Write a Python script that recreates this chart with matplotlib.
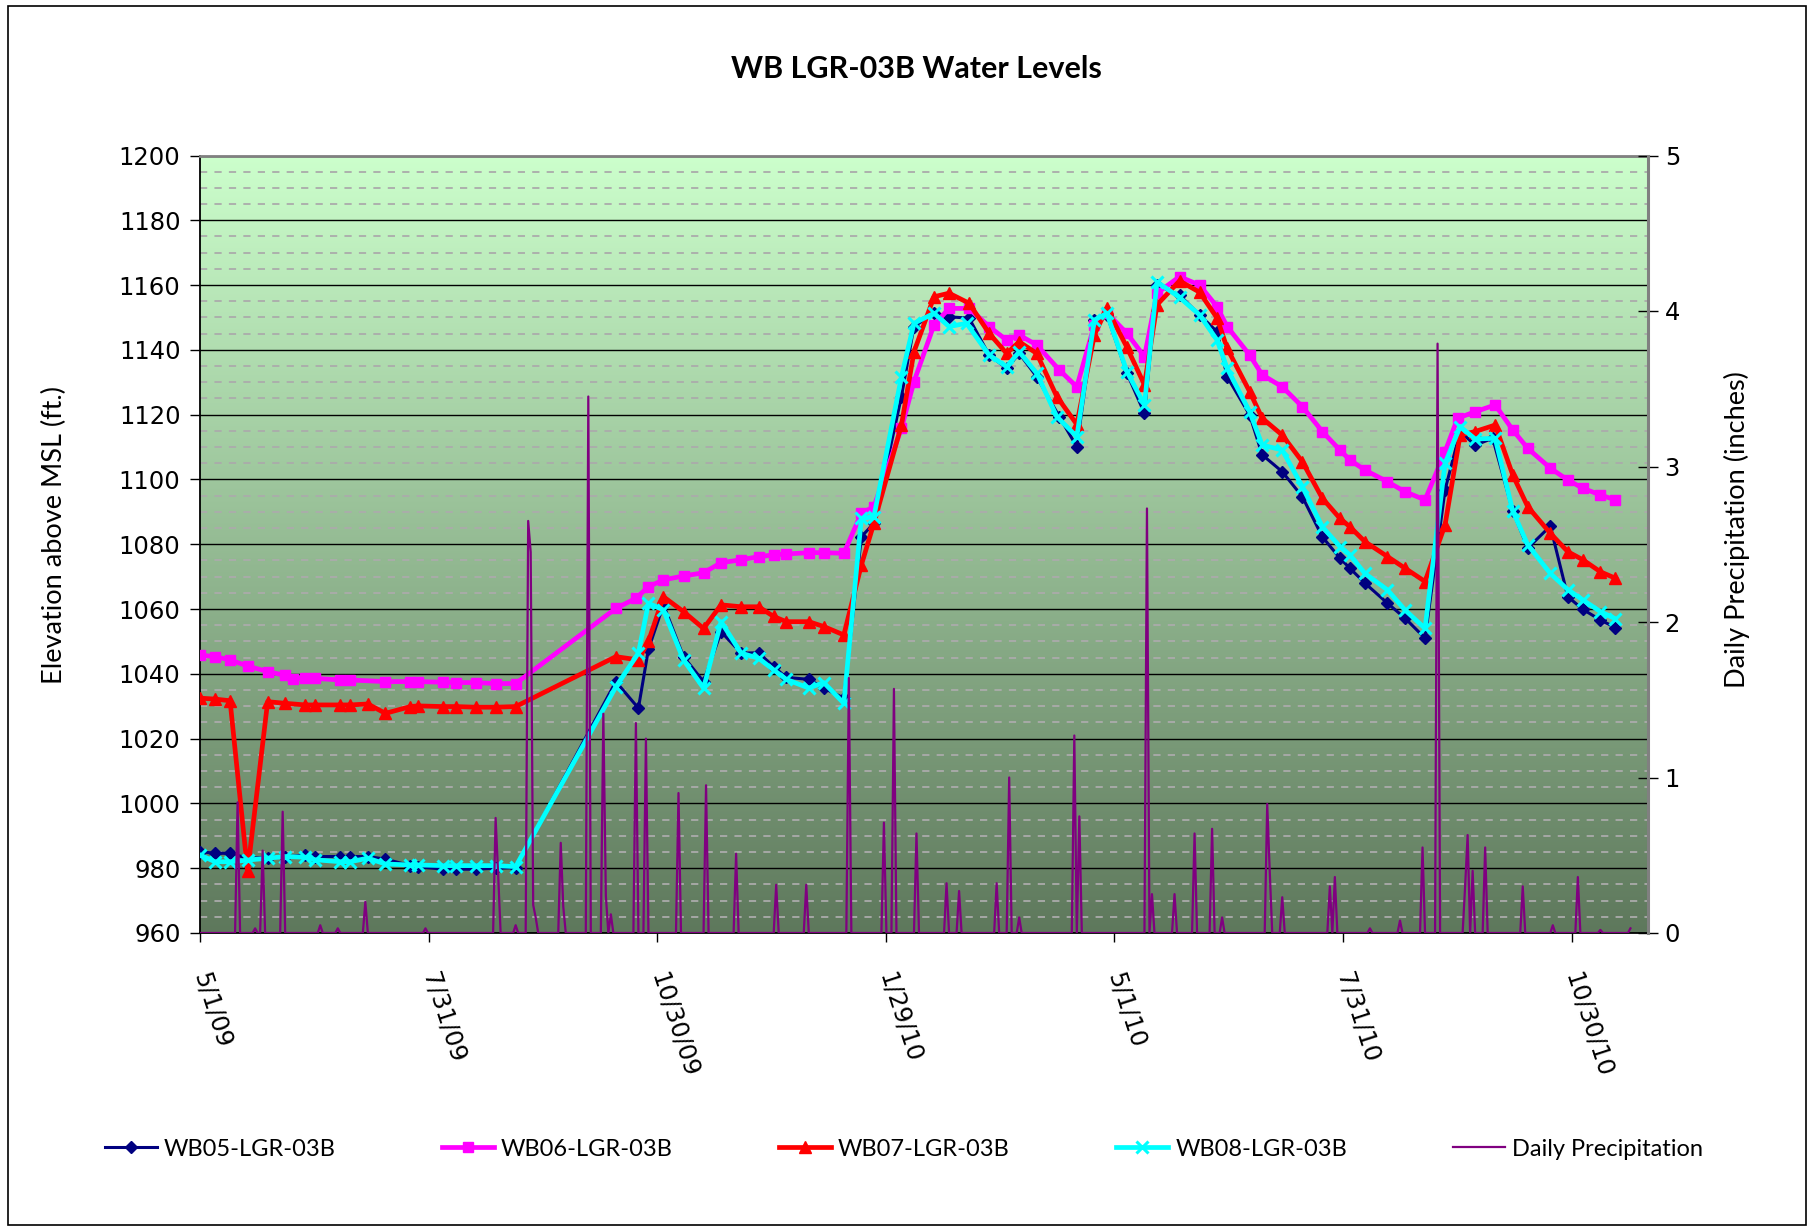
import numpy as np
import matplotlib
matplotlib.use("Agg")
import matplotlib.pyplot as plt
from matplotlib.patches import Rectangle
from matplotlib.ticker import MultipleLocator

# ---------------- data (days since 5/1/09) ----------------
title = "WB LGR-03B Water Levels"
xtick_days = [0, 91.25, 182.5, 273.75, 365, 456.25, 547.5]
xtick_labels = ["5/1/09", "7/31/09", "10/30/09", "1/29/10", "5/1/10", "7/31/10", "10/30/10"]

wb05_days = [0, 6, 12, 19, 27, 34, 42, 46, 56, 60, 67, 74, 84, 87, 97, 102, 110, 118, 126,
             166, 175, 179, 185, 193, 201, 208, 216, 223, 229, 234, 243, 249, 257, 264, 269,
             280, 285, 293, 299, 307, 315, 322, 327, 334, 343, 350, 357, 362, 370, 377, 382,
             391, 399, 406, 410, 419, 424, 432, 440, 448, 455, 459, 465, 474, 481, 489, 497,
             503, 509, 516, 524, 530, 539, 546, 552, 559, 565]
wb05_vals = [985.1, 984.6, 984.6, 983.1, 983.3, 983.5, 984.1, 983.6, 983.6, 983.6, 983.6, 982.8,
             980.8, 980.5, 979.7, 979.7, 979.7, 980.0, 980.2,
             1037.6, 1029.4, 1047.6, 1061.3, 1045.3, 1037.6, 1053.0, 1046.4, 1046.5, 1042.2,
             1038.9, 1038.3, 1035.6, 1032.5, 1082.3, 1086.5, 1125.6, 1147.2, 1151.3, 1150.2,
             1149.8, 1138.4, 1134.3, 1138.9, 1131.7, 1119.4, 1110.1, 1149.2, 1150.8, 1132.8,
             1120.4, 1160.0, 1156.9, 1150.8, 1145.6, 1131.7, 1119.9, 1107.6, 1102.4, 1094.7,
             1082.3, 1075.7, 1072.6, 1068.0, 1061.8, 1057.2, 1051.0, 1096.8, 1114.8, 1110.6,
             1112.7, 1090.3, 1078.8, 1085.6, 1063.8, 1059.9, 1056.6, 1054.3]

wb06_days = [0, 6, 12, 19, 27, 34, 37, 42, 46, 56, 60, 74, 84, 87, 97, 102, 110, 118, 126,
             166, 174, 179, 185, 193, 201, 208, 216, 223, 229, 234, 243, 249, 257, 264, 269,
             280, 285, 293, 299, 307, 315, 322, 327, 334, 343, 350, 357, 362, 370, 377, 382,
             391, 399, 406, 410, 419, 424, 432, 440, 448, 455, 459, 465, 474, 481, 489, 497,
             502, 509, 517, 524, 530, 539, 546, 552, 559, 565]
wb06_vals = [1045.8, 1045.3, 1044.3, 1042.4, 1040.7, 1039.5, 1038.3, 1038.8, 1038.6, 1038.1,
             1038.1, 1037.6, 1037.6, 1037.6, 1037.4, 1037.3, 1037.3, 1037.0, 1037.0,
             1060.2, 1063.3, 1066.9, 1069.0, 1070.2, 1071.2, 1074.3, 1075.2, 1076.2, 1076.7,
             1077.0, 1077.4, 1077.4, 1077.2, 1089.6, 1091.6, 1115.8, 1130.2, 1147.7, 1152.8,
             1152.8, 1147.2, 1143.0, 1144.6, 1141.5, 1133.8, 1128.6, 1147.7, 1151.5, 1145.1,
             1137.9, 1157.5, 1162.6, 1160.0, 1153.3, 1147.2, 1138.4, 1132.3, 1128.6, 1122.5,
             1114.8, 1109.1, 1106.0, 1102.9, 1099.3, 1096.2, 1093.7, 1108.6, 1118.9, 1120.9,
             1123.0, 1115.3, 1109.6, 1103.5, 1099.8, 1097.3, 1095.2, 1093.7]

wb07_days = [0, 6, 12, 19, 27, 34, 42, 46, 56, 60, 67, 74, 84, 87, 97, 102, 110, 118, 126,
             166, 175, 179, 185, 193, 201, 208, 216, 223, 229, 234, 243, 249, 257, 264, 269,
             280, 285, 293, 299, 307, 315, 322, 327, 334, 342, 350, 357, 362, 370, 377, 382,
             391, 399, 406, 410, 419, 424, 432, 440, 448, 455, 459, 465, 474, 481, 489, 497,
             503, 509, 517, 524, 530, 539, 546, 552, 559, 565]
wb07_vals = [1032.5, 1032.2, 1031.7, 979.0, 1031.4, 1030.9, 1030.4, 1030.4, 1030.4, 1030.4,
             1030.7, 1027.8, 1029.9, 1030.1, 1029.9, 1029.9, 1029.7, 1029.7, 1029.9,
             1045.3, 1044.3, 1050.0, 1063.8, 1059.2, 1054.0, 1061.3, 1060.7, 1060.7, 1057.7,
             1056.1, 1056.1, 1054.6, 1052.0, 1073.6, 1086.5, 1116.8, 1139.4, 1156.4, 1157.5,
             1154.4, 1145.1, 1138.9, 1142.5, 1138.9, 1125.6, 1117.0, 1144.6, 1152.8, 1140.8,
             1129.2, 1153.9, 1161.3, 1157.8, 1149.8, 1140.5, 1127.1, 1118.9, 1113.7, 1105.5,
             1094.2, 1088.0, 1085.4, 1080.8, 1076.2, 1072.6, 1068.5, 1086.0, 1113.7, 1114.8,
             1116.8, 1101.4, 1091.6, 1083.4, 1077.7, 1075.2, 1071.5, 1069.5]

wb08_days = [0, 6, 12, 19, 27, 34, 42, 46, 56, 60, 67, 74, 84, 87, 97, 102, 110, 118, 126,
             166, 175, 179, 185, 193, 201, 208, 216, 223, 229, 234, 243, 249, 257, 264, 269,
             280, 285, 293, 299, 306, 315, 322, 327, 334, 342, 350, 357, 362, 370, 377, 382,
             391, 399, 406, 410, 419, 424, 432, 440, 448, 455, 459, 465, 474, 481, 489, 497,
             503, 509, 517, 524, 530, 539, 546, 552, 559, 565]
wb08_vals = [984.1, 982.0, 982.0, 982.5, 983.1, 983.6, 983.4, 982.6, 982.0, 982.0, 983.1, 981.3,
             981.0, 981.0, 980.8, 980.8, 980.8, 980.8, 980.5,
             1036.0, 1046.4, 1061.8, 1059.7, 1044.3, 1035.6, 1056.1, 1046.4, 1044.8, 1041.2,
             1038.3, 1035.6, 1037.3, 1030.9, 1088.0, 1088.5, 1131.7, 1148.2, 1151.3, 1147.2,
             1148.2, 1138.4, 1134.8, 1139.4, 1132.8, 1119.4, 1113.2, 1149.2, 1151.3, 1133.3,
             1123.0, 1161.0, 1156.2, 1150.8, 1143.0, 1134.3, 1120.9, 1110.6, 1109.1, 1097.8,
             1085.4, 1079.3, 1076.7, 1071.0, 1065.9, 1059.7, 1054.0, 1105.0, 1116.3, 1112.5,
             1112.7, 1090.3, 1079.8, 1071.0, 1066.0, 1062.8, 1059.2, 1057.0]

# daily precipitation: days with rain (all other days are 0)
precip_last_day = 571
precip_days = [15, 22, 25, 33, 48, 55, 66, 90, 118, 119, 126, 131, 132, 133, 134, 144, 145,
               155, 161, 162, 164, 174, 178, 191, 202, 214, 230, 242, 259, 273, 277, 286, 298,
               303, 318, 323, 327, 349, 351, 378, 380, 389, 397, 404, 408, 426, 427, 432, 451,
               453, 467, 479, 488, 494, 505, 506, 508, 513, 528, 540, 550, 559, 571]
precip_vals = [0.84, 0.03, 0.53, 0.78, 0.05, 0.03, 0.2, 0.03, 0.74, 0.38, 0.05, 2.65, 2.45,
               0.18, 0.1, 0.58, 0.17, 3.45, 1.41, 0.24, 0.12, 1.35, 1.25, 0.9, 0.95, 0.51,
               0.31, 0.31, 1.64, 0.71, 1.57, 0.64, 0.32, 0.27, 0.32, 1.0, 0.1, 1.27, 0.75,
               2.73, 0.25, 0.25, 0.64, 0.67, 0.1, 0.83, 0.4, 0.23, 0.3, 0.36, 0.03, 0.08,
               0.55, 3.79, 0.3, 0.63, 0.4, 0.55, 0.3, 0.05, 0.36, 0.02, 0.03]

# ---------------- figure ----------------
W, H = 1815, 1227
fig = plt.figure(figsize=(W / 100, H / 100), dpi=100)
fig.patch.set_facecolor("white")

L, R, T, B = 200, 1648, 155.5, 933
ax = fig.add_axes([L / W, 1 - B / H, (R - L) / W, (B - T) / H])
XMAX = 578

# gradient background
top_c = np.array([204, 255, 204]) / 255.0
bot_c = np.array([94, 120, 92]) / 255.0
t = np.linspace(0, 1, 256)[:, None]
grad = (top_c[None, :] * (1 - t) + bot_c[None, :] * t)[:, None, :]
ax.imshow(grad, extent=[0, XMAX, 960, 1200], aspect="auto", origin="upper", zorder=0,
          interpolation="bilinear")
ax.set_xlim(0, XMAX)
ax.set_ylim(960, 1200)

ax.set_yticks(np.arange(960, 1201, 20))
ax.yaxis.set_minor_locator(MultipleLocator(5))
ax.set_axisbelow(True)
ax.grid(which="major", axis="y", color="black", lw=1.0, zorder=0.5)
ax.grid(which="minor", axis="y", color="#ABABAB", lw=1.3, linestyle=(0, (4, 4)), zorder=0.5)
ax.grid(which="major", axis="x", visible=False)

ax.set_xticks(xtick_days)
ax.set_xticklabels(xtick_labels, rotation=-72, ha="left", va="center", rotation_mode="anchor")

tick_font = "DejaVu Sans"
TS = 17.5
ax.tick_params(axis="y", which="major", direction="out", length=7, width=1, pad=7,
               labelsize=TS, colors="black")
ax.tick_params(axis="y", which="minor", length=0)
ax.tick_params(axis="x", direction="out", length=6.5, width=1, pad=22, labelsize=TS)
for lab in ax.get_xticklabels() + ax.get_yticklabels():
    lab.set_fontfamily(tick_font)

# series
s05, = ax.plot(wb05_days, wb05_vals, color="#000080", lw=2.2, marker="D", ms=6,
               mfc="#000080", mec="#000080", zorder=3)
s06, = ax.plot(wb06_days, wb06_vals, color="#FF00FF", lw=3.4, marker="s", ms=6.5,
               mfc="#FF00FF", mec="#FF00FF", zorder=3)
s07, = ax.plot(wb07_days, wb07_vals, color="#FF0000", lw=3.4, marker="^", ms=8,
               mfc="#FF0000", mec="#FF0000", zorder=3)
s08, = ax.plot(wb08_days, wb08_vals, color="#00FFFF", lw=3.4, marker="x", ms=8, mew=2.2,
               mfc="#00FFFF", mec="#00FFFF", zorder=3)

# spines
ax.spines["left"].set_color("black")
ax.spines["left"].set_linewidth(1.3)
ax.spines["bottom"].set_color("black")
ax.spines["bottom"].set_linewidth(1.3)
ax.spines["top"].set_color("#808080")
ax.spines["top"].set_linewidth(2)
ax.spines["right"].set_visible(False)

# precipitation on secondary axis
ax2 = ax.twinx()
ax2.set_ylim(0, 5)
ax2.set_xlim(0, XMAX)
daily = np.zeros(precip_last_day + 1)
daily[np.array(precip_days)] = precip_vals
sp, = ax2.plot(np.arange(precip_last_day + 1), daily, color="#800080", lw=1.6, zorder=4)
ax2.set_yticks([0, 1, 2, 3, 4, 5])
ax2.tick_params(axis="y", direction="inout", length=14, width=1, pad=5, labelsize=TS)
for lab in ax2.get_yticklabels():
    lab.set_fontfamily(tick_font)
for s in ["top", "left", "bottom"]:
    ax2.spines[s].set_visible(False)
ax2.spines["right"].set_color("#808080")
ax2.spines["right"].set_linewidth(2.2)

# texts
lab_font = "Lato"
fig.text(916 / W, 1 - 69.5 / H, title, ha="center", va="center", fontsize=22,
         fontweight="bold", family=lab_font)
fig.text(54 / W, 1 - 535 / H, "Elevation above MSL (ft.)", rotation=90, ha="center",
         va="center", fontsize=19.5, family=lab_font)
fig.text(1737 / W, 1 - 530 / H, "Daily Precipitation (inches)", rotation=90, ha="center",
         va="center", fontsize=19.5, family=lab_font)

handles = [s05, s06, s07, s08, sp]
labels = ["WB05-LGR-03B", "WB06-LGR-03B", "WB07-LGR-03B", "WB08-LGR-03B", "Daily Precipitation"]
leg = fig.legend(handles, labels, loc="center", bbox_to_anchor=(904 / W, 1 - 1149 / H),
                 ncol=5, frameon=False, numpoints=1, handlelength=2.2, handletextpad=0.3,
                 columnspacing=4.5, prop={"family": lab_font, "size": 17})

# outer border
fig.add_artist(Rectangle((8 / W, 2 / H), (1806 - 8) / W, (1221 - 2) / H,
                         transform=fig.transFigure, fill=False, ec="black", lw=1.2))

fig.savefig("out.png", dpi=100)
